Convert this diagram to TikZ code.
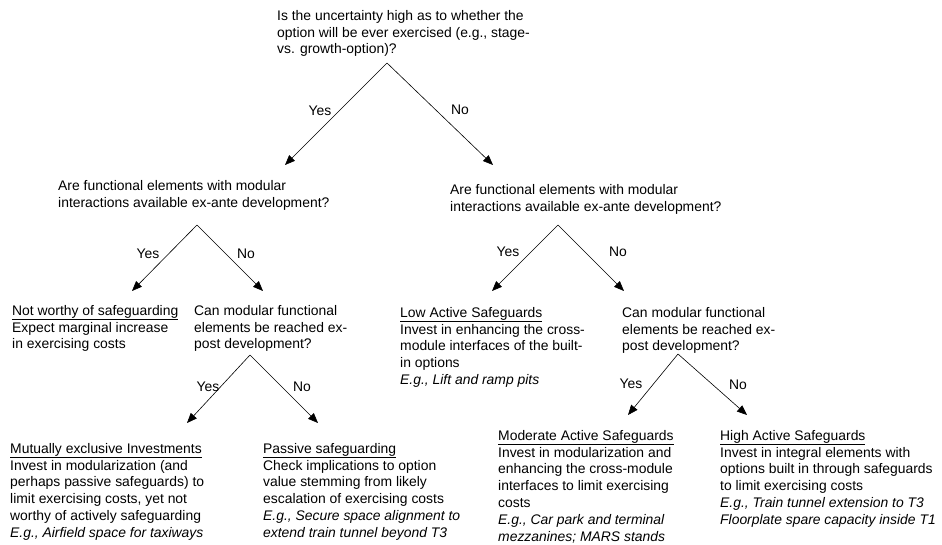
\documentclass[tikz,border=0pt]{standalone}
\usepackage{fontspec}
\setmainfont{Liberation Sans}
\usetikzlibrary{arrows.meta}

\begin{document}
\begin{tikzpicture}[x=1pt,y=-1pt,
    txt/.style={anchor=north west, inner sep=0pt, align=left, font=\fontsize{13.9}{16.8}\selectfont},
    lbl/.style={inner sep=0pt, font=\fontsize{13.9}{16.8}\selectfont},
    branch/.style={-{Triangle[length=10pt,width=8pt]}, line width=0.6pt}]
    \useasboundingbox[fill=white] (0,0) rectangle (942,544);

    % questions
    \node[txt] (q_0) at (277,10)  {Is the uncertainty high as to whether the\\option will be ever exercised (e.g., stage-\\vs. growth-option)?};
    \node[txt] (q_1) at (58,180)  {Are functional elements with modular\\interactions available ex-ante development?};
    \node[txt] (q_2) at (450,184) {Are functional elements with modular\\interactions available ex-ante development?};
    \node[txt] (q_3) at (194,305) {Can modular functional\\elements be reached ex-\\post development?};
    \node[txt] (q_4) at (622,307) {Can modular functional\\elements be reached ex-\\post development?};

    % answers
    \node[txt] (a_1) at (12,305)  {\underline{Not worthy of safeguarding}\\Expect marginal increase\\in exercising costs};
    \node[txt] (a_2) at (400,307) {\underline{Low Active Safeguards}\\Invest in enhancing the cross-\\module interfaces of the built-\\in options\\\textit{E.g., Lift and ramp pits}};
    \node[txt] (a_3) at (10,443)  {\underline{Mutually exclusive Investments}\\Invest in modularization (and\\perhaps passive safeguards) to\\limit exercising costs, yet not\\worthy of actively safeguarding\\\textit{E.g., Airfield space for taxiways}};
    \node[txt] (a_4) at (263,443) {\underline{Passive safeguarding}\\Check implications to option\\value stemming from likely\\escalation of exercising costs\\\textit{E.g., Secure space alignment to}\\\textit{extend train tunnel beyond T3}};
    \node[txt] (a_5) at (498,430) {\underline{Moderate Active Safeguards}\\Invest in modularization and\\enhancing the cross-module\\interfaces to limit exercising\\costs\\\textit{E.g., Car park and terminal}\\\textit{mezzanines; MARS stands}};
    \node[txt] (a_6) at (720,430) {\underline{High Active Safeguards}\\Invest in integral elements with\\options built in through safeguards\\to limit exercising costs\\\textit{E.g., Train tunnel extension to T3}\\\textit{Floorplate spare capacity inside T1}};

    % forks and arrow ends
    \coordinate (f_0) at (387,63);
    \coordinate (f_1) at (197,225);
    \coordinate (f_2) at (558,225);
    \coordinate (f_3) at (250,355);
    \coordinate (f_4) at (678,354);
    \coordinate (t_0y) at (285,165);  \coordinate (t_0n) at (493,165);
    \coordinate (t_1y) at (132,291);  \coordinate (t_1n) at (263,291);
    \coordinate (t_2y) at (492,291);  \coordinate (t_2n) at (624,291);
    \coordinate (t_3y) at (187,423);  \coordinate (t_3n) at (318,423);
    \coordinate (t_4y) at (628,415);  \coordinate (t_4n) at (747,415);

    \draw[branch] (f_0) -- (t_0y);  \draw[branch] (f_0) -- (t_0n);
    \draw[branch] (f_1) -- (t_1y);  \draw[branch] (f_1) -- (t_1n);
    \draw[branch] (f_2) -- (t_2y);  \draw[branch] (f_2) -- (t_2n);
    \draw[branch] (f_3) -- (t_3y);  \draw[branch] (f_3) -- (t_3n);
    \draw[branch] (f_4) -- (t_4y);  \draw[branch] (f_4) -- (t_4n);

    % yes / no labels
    \node[lbl] (y_0) at (320,111) {Yes};  \node[lbl] (n_0) at (460,110) {No};
    \node[lbl] (y_1) at (148,254) {Yes};  \node[lbl] (n_1) at (246,254) {No};
    \node[lbl] (y_2) at (508,252) {Yes};  \node[lbl] (n_2) at (618,252) {No};
    \node[lbl] (y_3) at (208,387) {Yes};  \node[lbl] (n_3) at (302,387) {No};
    \node[lbl] (y_4) at (631,384) {Yes};  \node[lbl] (n_4) at (738,385) {No};
\end{tikzpicture}
\end{document}
